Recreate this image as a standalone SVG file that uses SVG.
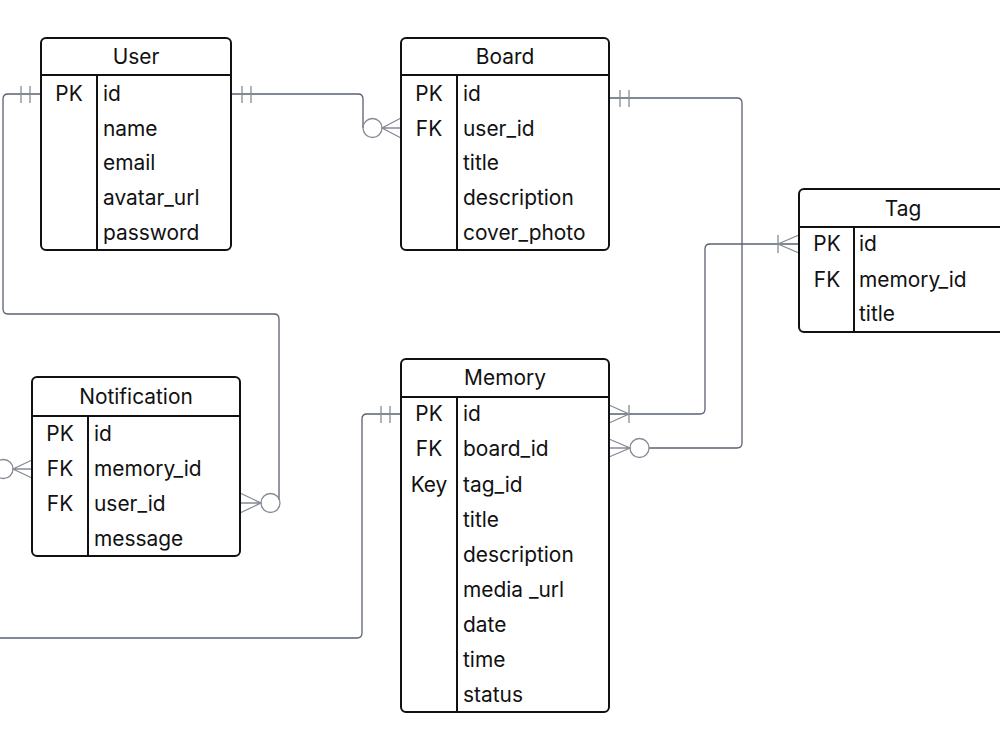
<svg xmlns="http://www.w3.org/2000/svg" width="1000" height="749" viewBox="0 0 1000 749">
<style>
.box{fill:#fff;stroke:#111;stroke-width:2}
.sep{stroke:#111;stroke-width:2;fill:none}
.t{font-family:Inter,"Liberation Sans",sans-serif;font-size:20.9px;fill:#111}
.h{text-anchor:middle}
.k{text-anchor:middle}
.ln{fill:none;stroke:#5b6173;stroke-width:1.3}
.end{fill:none;stroke:#868b96;stroke-width:1.3}
</style>
<rect width="1000" height="749" fill="#fff"/>
<g id="connectors">
  <!-- User.id -> Notification.user_id -->
  <path class="ln" d="M41,94 H8 Q3,94 3,99 V309 Q3,314 8,314 H274 Q279,314 279,319 V500"/>
  <path class="end" d="M30,86 V103 M21,86 V103"/>
  <circle class="end" cx="270.5" cy="503" r="9.5"/>
  <path class="end" d="M240,493 L261,503 L240,513 M240,503 H261"/>
  <!-- User.id -> Board.user_id -->
  <path class="ln" d="M231,94 H358 Q363,94 363,99 V128"/>
  <path class="end" d="M242,86 V103 M251,86 V103"/>
  <circle class="end" cx="372.5" cy="128" r="9.5"/>
  <path class="end" d="M401,118 L382,128 L401,138 M382,128 H401"/>
  <!-- Board.id -> Memory.board_id -->
  <path class="ln" d="M609,98 H737 Q742,98 742,103 V443 Q742,448 737,448 H649"/>
  <path class="end" d="M620,90 V107 M629,90 V107"/>
  <circle class="end" cx="639.5" cy="448" r="9.5"/>
  <path class="end" d="M609,439 L630,448 L609,457 M609,448 H630"/>
  <!-- Memory.id -> Tag.id -->
  <path class="ln" d="M609,414 H700 Q705,414 705,409 V249 Q705,244 710,244 H799"/>
  <path class="end" d="M609,405 L629,414 L609,423 M629,405 V423"/>
  <path class="end" d="M799,235 L778,244 L799,253 M778,235 V253"/>
  <!-- Memory.id -> offscreen -->
  <path class="ln" d="M401,414 H367 Q362,414 362,419 V633 Q362,638 357,638 H-10"/>
  <path class="end" d="M390,406 V423 M381,406 V423"/>
  <!-- Notification.memory_id -> offscreen -->
  <circle class="end" cx="3.5" cy="469" r="9.5"/>
  <path class="end" d="M32,460 L13,469 L32,478 M13,469 H32"/>
</g>
<g id="User">
  <rect class="box" x="41" y="38" width="190" height="212" rx="5"/>
  <path class="sep" d="M41,75 H231 M97,75 V250"/>
  <text class="t h" x="136" y="64">User</text>
  <text class="t k" x="69" y="101">PK</text>
  <text class="t" x="103" y="101">id</text>
  <text class="t" x="103" y="136">name</text>
  <text class="t" x="103" y="170">email</text>
  <text class="t" x="103" y="205">avatar_url</text>
  <text class="t" x="103" y="240">password</text>
</g>
<g id="Board">
  <rect class="box" x="401" y="38" width="208" height="212" rx="5"/>
  <path class="sep" d="M401,75 H609 M457,75 V250"/>
  <text class="t h" x="505" y="64">Board</text>
  <text class="t k" x="429" y="101">PK</text>
  <text class="t k" x="429" y="136">FK</text>
  <text class="t" x="463" y="101">id</text>
  <text class="t" x="463" y="136">user_id</text>
  <text class="t" x="463" y="170">title</text>
  <text class="t" x="463" y="205">description</text>
  <text class="t" x="463" y="240">cover_photo</text>
</g>
<g id="Tag">
  <rect class="box" x="799" y="189" width="208" height="143" rx="5"/>
  <path class="sep" d="M799,227 H1007 M854,227 V332"/>
  <text class="t h" x="903" y="216">Tag</text>
  <text class="t k" x="827" y="251">PK</text>
  <text class="t k" x="827" y="287">FK</text>
  <text class="t" x="859" y="251">id</text>
  <text class="t" x="859" y="287">memory_id</text>
  <text class="t" x="859" y="321">title</text>
</g>
<g id="Notification">
  <rect class="box" x="32" y="377" width="208" height="179" rx="5"/>
  <path class="sep" d="M32,416 H240 M88,416 V556"/>
  <text class="t h" x="136" y="404">Notification</text>
  <text class="t k" x="60" y="441">PK</text>
  <text class="t k" x="60" y="476">FK</text>
  <text class="t k" x="60" y="511">FK</text>
  <text class="t" x="94" y="441">id</text>
  <text class="t" x="94" y="476">memory_id</text>
  <text class="t" x="94" y="511">user_id</text>
  <text class="t" x="94" y="546">message</text>
</g>
<g id="Memory">
  <rect class="box" x="401" y="359" width="208" height="353" rx="5"/>
  <path class="sep" d="M401,397 H609 M457,397 V712"/>
  <text class="t h" x="505" y="385">Memory</text>
  <text class="t k" x="429" y="421">PK</text>
  <text class="t k" x="429" y="456">FK</text>
  <text class="t k" x="429" y="492">Key</text>
  <text class="t" x="463" y="421">id</text>
  <text class="t" x="463" y="456">board_id</text>
  <text class="t" x="463" y="492">tag_id</text>
  <text class="t" x="463" y="527">title</text>
  <text class="t" x="463" y="562">description</text>
  <text class="t" x="463" y="597">media _url</text>
  <text class="t" x="463" y="632">date</text>
  <text class="t" x="463" y="667">time</text>
  <text class="t" x="463" y="702">status</text>
</g>
</svg>
